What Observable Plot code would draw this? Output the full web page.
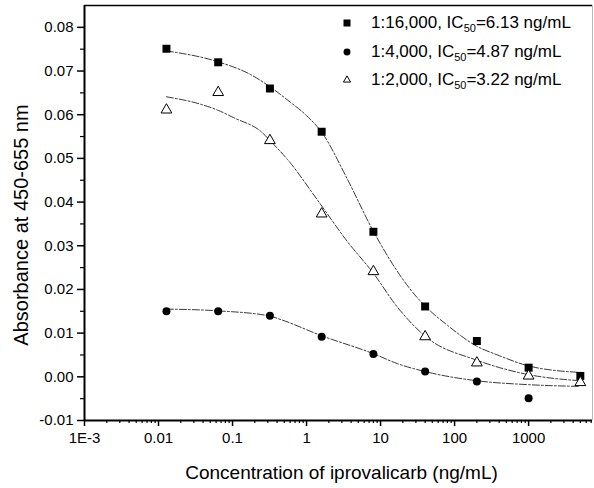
<!DOCTYPE html>
<html><head><meta charset="utf-8">
<script src="https://cdn.jsdelivr.net/npm/d3@7"></script>
<script src="https://cdn.jsdelivr.net/npm/@observablehq/plot@0.6"></script>
<style>
body{margin:0;background:#fff;}
#wrap{position:relative;width:594px;height:488px;font-family:"Liberation Sans",Arial,sans-serif;color:#000;}
.row{position:absolute;height:20px;line-height:20px;white-space:nowrap;font-size:17px;}
.row svg{position:absolute;left:0;top:0;}
.row span{position:absolute;left:31px;top:0;}
.row sub{font-size:11px;vertical-align:-4px;line-height:0;}
</style>
</head><body>
<div id="wrap"></div>
<script>
// Measured concentrations (ng/mL)
const conc = [0.0128, 0.064, 0.32, 1.6, 8, 40, 200, 1000, 5000];
// Measured absorbances
const abs16000 = [0.0751, 0.0720, 0.0660, 0.0561, 0.0332, 0.0161, 0.0082, 0.0021, 0.0002];
const abs4000  = [0.0150, 0.0150, 0.0140, 0.0092, 0.0052, 0.0012, -0.0011, -0.0049];
const abs2000  = [0.0611, 0.0651, 0.0541, 0.0373, 0.0241, 0.0092, 0.0032, 0.0002, -0.0013];
// Fitted curves
const fitConc16000 = [0.0128, 0.064, 0.175, 0.32, 0.61, 1.0, 1.6, 3.5, 8, 31, 40, 80, 200, 380, 1000, 5000];
const fit16000     = [0.0746, 0.0721, 0.0692, 0.0664, 0.0628, 0.0598, 0.0560, 0.0455, 0.0333, 0.0182, 0.0162, 0.0118, 0.0070, 0.0050, 0.0025, 0.0010];
const fitConc4000  = [0.0128, 0.064, 0.32, 0.45, 1.6, 8, 17, 40, 200, 1000, 5000];
const fit4000      = [0.0155, 0.0151, 0.0139, 0.0131, 0.0094, 0.0053, 0.0030, 0.0012, -0.0009, -0.0018, -0.0022];
const fitConc2000  = [0.0128, 0.037, 0.064, 0.104, 0.24, 0.36, 0.55, 1.4, 3.55, 8, 16.8, 40, 200, 1000, 5000];
const fit2000      = [0.0641, 0.0624, 0.0610, 0.0593, 0.0562, 0.0532, 0.0498, 0.0405, 0.0310, 0.0237, 0.0160, 0.0093, 0.0038, 0.0005, -0.0009];
// Legend
const dilutions = ["1:16,000", "1:4,000", "1:2,000"];
const ic50 = ["6.13", "4.87", "3.22"];
// Axes
const xTicks = [0.001, 0.01, 0.1, 1, 10, 100, 1000];
const xTickLabels = ["1E-3", "0.01", "0.1", "1", "10", "100", "1000"];
const yTicks = [-0.01, 0, 0.01, 0.02, 0.03, 0.04, 0.05, 0.06, 0.07, 0.08];
const xTitle = "Concentration of iprovalicarb (ng/mL)";
const yTitle = "Absorbance at 450-655 nm";
const xMax = 7300, yMin = -0.01, yMax = 0.085;

const xMinor = [];
for (let e = -3; e <= 3; e++) for (let m = 2; m <= 9; m++) { const v = m * Math.pow(10, e); if (v < xMax) xMinor.push(v); }
const yMinor = yTicks.map(t => t + 0.005).filter(v => v < yMax);

const pts = (xs, ys) => ys.map((y, i) => ({x: xs[i], y}));
const s16 = pts(conc, abs16000), s4 = pts(conc, abs4000), s2 = pts(conc, abs2000);
const f16 = pts(fitConc16000, fit16000), f4 = pts(fitConc4000, fit4000), f2 = pts(fitConc2000, fit2000);

const lineStyle = {x: "x", y: "y", curve: "monotone-x", stroke: "#222", strokeWidth: 0.9, strokeDasharray: "7,2,2,2"};

const chart = Plot.plot({
  width: 594, height: 488,
  marginLeft: 84, marginRight: 2, marginTop: 5, marginBottom: 68,
  style: {fontFamily: "Liberation Sans, Arial, sans-serif", fontSize: "15px", color: "#000", background: "#fff"},
  x: {type: "log", domain: [0.001, xMax], label: null},
  y: {domain: [yMin, yMax], label: null},
  marks: [
    Plot.axisX({ticks: xMinor, tickSize: 3, text: null, label: null, strokeWidth: 1.2}),
    Plot.axisX({ticks: xTicks, tickFormat: d => xTickLabels[xTicks.indexOf(d)], tickSize: 6, tickPadding: 6, fontSize: 15, label: null, strokeWidth: 1.5}),
    Plot.axisY({ticks: yMinor, tickSize: 4, text: null, label: null, strokeWidth: 1.2}),
    Plot.axisY({ticks: yTicks, tickFormat: d => d.toFixed(2), tickSize: 7, tickPadding: 4, fontSize: 15, label: null, strokeWidth: 1.5}),
    Plot.ruleX([0.001], {strokeWidth: 2}),
    Plot.ruleY([yMin], {strokeWidth: 2}),
    Plot.ruleY([yMax], {strokeWidth: 1.5}),
    Plot.ruleX([xMax], {stroke: "#bbb", strokeWidth: 1}),
    Plot.line(f16, lineStyle),
    Plot.line(f4, lineStyle),
    Plot.line(f2, lineStyle),
    Plot.dot(s4, {x: "x", y: "y", symbol: "circle", r: 4, fill: "#000"}),
    Plot.dot(s16, {x: "x", y: "y", symbol: "square", r: 4.5, fill: "#000"}),
    Plot.dot(s2, {x: "x", y: "y", symbol: "triangle", r: 4, fill: "#fff", stroke: "#000", strokeWidth: 1}),
    Plot.text([xTitle], {frameAnchor: "bottom", dy: 52, dx: 3, fontSize: 19, lineAnchor: "middle"}),
    Plot.text([yTitle], {frameAnchor: "left", rotate: -90, dx: -63, dy: 12, fontSize: 20, lineAnchor: "middle", textAnchor: "middle"})
  ]
});
const wrap = document.getElementById("wrap");
wrap.appendChild(chart);

const symbols = [[d3.symbolSquare, 49, "#000", "none"], [d3.symbolCircle, 38, "#000", "none"], [d3.symbolTriangle, 22, "#fff", "#000"]];
dilutions.forEach((dil, i) => {
  const cy = 23 + i * 28.5;
  const row = d3.select(wrap).append("div").attr("class", "row").style("left", "340px").style("top", (cy - 10) + "px");
  const svg = row.append("svg").attr("width", 14).attr("height", 20);
  const [sym, size, fill, stroke] = symbols[i];
  svg.append("path").attr("d", d3.symbol(sym, size)()).attr("transform", "translate(7,10)")
    .attr("fill", fill).attr("stroke", stroke);
  row.append("span").html(`${dil}, IC<sub>50</sub>=${ic50[i]} ng/mL`);
});
</script>
</body></html>
